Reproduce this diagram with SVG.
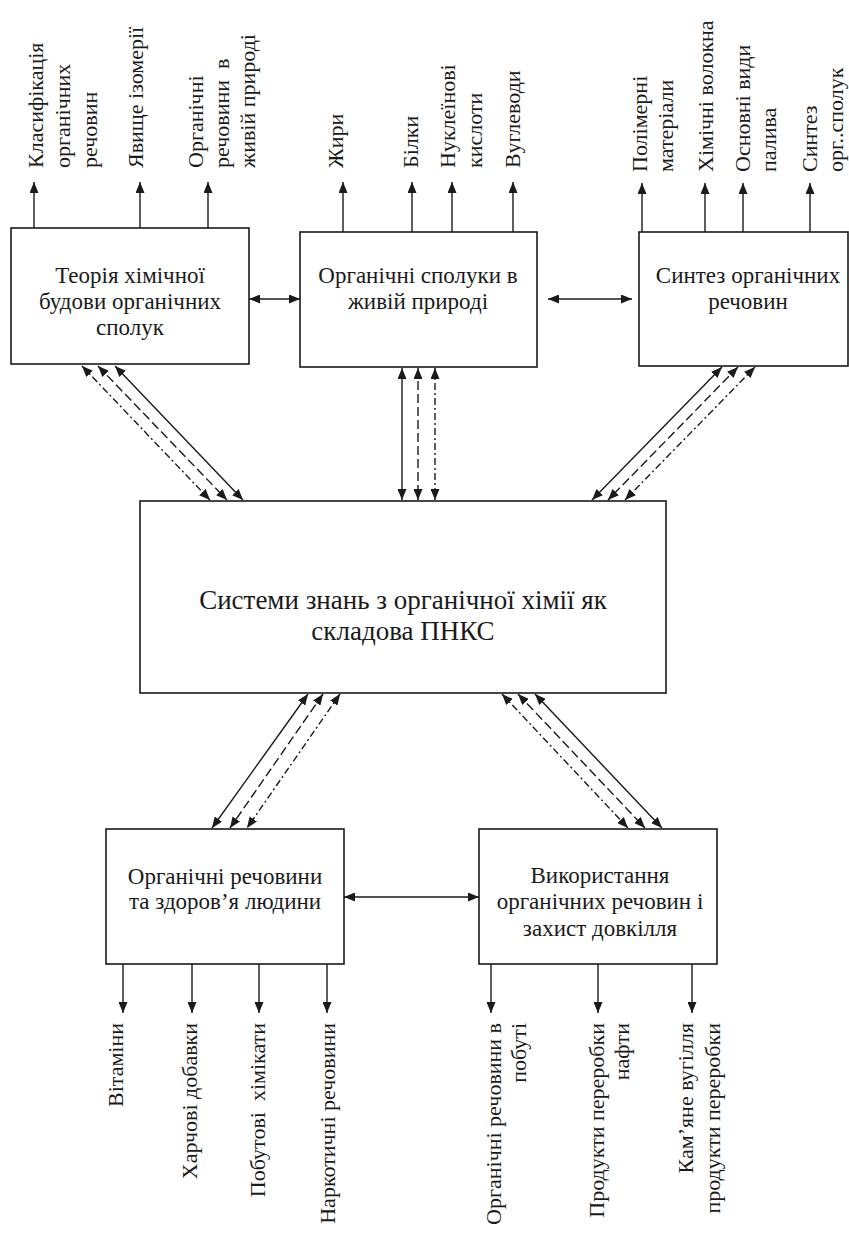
<svg xmlns="http://www.w3.org/2000/svg" width="849" height="1233" viewBox="0 0 849 1233">
<style>
.box{fill:#fff;stroke:#1a1a1a;stroke-width:1.6}
.t,.tc,.lb{font-family:'Liberation Serif','DejaVu Serif','Noto Serif',serif;fill:#1a1a1a}
.t{font-size:23px;text-anchor:middle}
.tc{font-size:27px;text-anchor:middle}
.lb{font-size:22px;white-space:pre}
.le{text-anchor:end}
.c{stroke:#1a1a1a;stroke-width:1.4;fill:none}
.one{marker-end:url(#ah)}
.two{marker-start:url(#ah);marker-end:url(#ah)}
.dash{stroke-dasharray:9 4}
.dd{stroke-dasharray:7 3 2 3}
</style>
<defs>
<marker id="ah" markerUnits="userSpaceOnUse" markerWidth="11" markerHeight="9" refX="11" refY="4.5" orient="auto-start-reverse">
<path d="M0,0 L11,4.5 L0,9 z" fill="#1a1a1a"/>
</marker>
</defs>
<rect width="849" height="1233" fill="#fff"/>

<g id="connectors">
<line class="c one" x1="34" y1="228" x2="34" y2="182"/>
<line class="c one" x1="140" y1="228" x2="140" y2="182"/>
<line class="c one" x1="208" y1="228" x2="208" y2="182"/>
<line class="c one" x1="343" y1="232" x2="343" y2="182"/>
<line class="c one" x1="412" y1="232" x2="412" y2="182"/>
<line class="c one" x1="452" y1="232" x2="452" y2="182"/>
<line class="c one" x1="513" y1="232" x2="513" y2="182"/>
<line class="c one" x1="642" y1="232" x2="642" y2="183"/>
<line class="c one" x1="705" y1="232" x2="705" y2="183"/>
<line class="c one" x1="743" y1="232" x2="743" y2="183"/>
<line class="c one" x1="810" y1="232" x2="810" y2="183"/>
<line class="c one" x1="123" y1="964" x2="123" y2="1013"/>
<line class="c one" x1="192" y1="964" x2="192" y2="1013"/>
<line class="c one" x1="259" y1="964" x2="259" y2="1013"/>
<line class="c one" x1="327" y1="964" x2="327" y2="1013"/>
<line class="c one" x1="491" y1="964" x2="491" y2="1013"/>
<line class="c one" x1="598" y1="964" x2="598" y2="1013"/>
<line class="c one" x1="692" y1="964" x2="692" y2="1013"/>
<line class="c two" x1="249" y1="299" x2="300" y2="299"/>
<line class="c two" x1="548" y1="299" x2="632" y2="299"/>
<line class="c two" x1="344" y1="897" x2="479" y2="897"/>
<line class="c two" x1="115" y1="366" x2="243" y2="500"/>
<line class="c two dash" x1="98" y1="366" x2="227" y2="500"/>
<line class="c two dd" x1="82" y1="366" x2="210" y2="500"/>
<line class="c two" x1="402" y1="368" x2="402" y2="500"/>
<line class="c two dash" x1="418" y1="368" x2="418" y2="500"/>
<line class="c two dd" x1="435" y1="368" x2="435" y2="500"/>
<line class="c two" x1="722" y1="367" x2="592" y2="500"/>
<line class="c two dash" x1="738" y1="367" x2="608" y2="500"/>
<line class="c two dd" x1="755" y1="367" x2="625" y2="500"/>
<line class="c two" x1="308" y1="694" x2="212" y2="828"/>
<line class="c two dash" x1="323" y1="694" x2="230" y2="828"/>
<line class="c two dd" x1="340" y1="694" x2="247" y2="828"/>
<line class="c two" x1="535" y1="694" x2="662" y2="828"/>
<line class="c two dash" x1="518" y1="694" x2="645" y2="828"/>
<line class="c two dd" x1="502" y1="694" x2="628" y2="828"/>
</g>

<g id="theory">
<rect class="box" x="11" y="228" width="238" height="136"/>
<text class="t" x="130" y="283">Теорія хімічної</text>
<text class="t" x="130" y="309">будови органічних</text>
<text class="t" x="130" y="335">сполук</text>
</g>
<g id="theory-labels">
<text class="lb" transform="translate(43,168) rotate(-90)">Класифікація</text>
<text class="lb" transform="translate(70,168) rotate(-90)">органічних</text>
<text class="lb" transform="translate(97,168) rotate(-90)">речовин</text>
<text class="lb" transform="translate(143,168) rotate(-90)">Явище ізомерії</text>
<text class="lb" transform="translate(203,168) rotate(-90)">Органічні</text>
<text class="lb" transform="translate(229,168) rotate(-90)">речовини  в</text>
<text class="lb" transform="translate(255,168) rotate(-90)">живій природі</text>
</g>

<g id="living">
<rect class="box" x="300" y="232" width="237" height="135"/>
<text class="t" x="418" y="283">Органічні сполуки в</text>
<text class="t" x="418" y="309">живій природі</text>
</g>
<g id="living-labels">
<text class="lb" transform="translate(343,168) rotate(-90)">Жири</text>
<text class="lb" transform="translate(418,168) rotate(-90)">Білки</text>
<text class="lb" transform="translate(455,168) rotate(-90)">Нуклеїнові</text>
<text class="lb" transform="translate(482,168) rotate(-90)">кислоти</text>
<text class="lb" transform="translate(520,168) rotate(-90)">Вуглеводи</text>
</g>

<g id="synthesis">
<rect class="box" x="639" y="232" width="209" height="134"/>
<text class="t" x="748" y="283">Синтез органічних</text>
<text class="t" x="748" y="309">речовин</text>
</g>
<g id="synthesis-labels">
<text class="lb" transform="translate(647,172) rotate(-90)">Полімерні</text>
<text class="lb" transform="translate(673,172) rotate(-90)">матеріали</text>
<text class="lb" transform="translate(713,172) rotate(-90)">Хімічні волокна</text>
<text class="lb" transform="translate(750,172) rotate(-90)">Основні види</text>
<text class="lb" transform="translate(776,172) rotate(-90)">палива</text>
<text class="lb" transform="translate(817,172) rotate(-90)">Синтез</text>
<text class="lb" transform="translate(843,172) rotate(-90)">орг..сполук</text>
</g>

<g id="central">
<rect class="box" x="140" y="501" width="526" height="192"/>
<text class="tc" x="403" y="609">Системи знань з органічної хімії як</text>
<text class="tc" x="403" y="640">складова ПНКС</text>
</g>

<g id="health">
<rect class="box" x="106" y="829" width="238" height="135"/>
<text class="t" x="225" y="884">Органічні речовини</text>
<text class="t" x="225" y="909">та здоров’я людини</text>
</g>
<g id="health-labels">
<text class="lb le" transform="translate(123,1023) rotate(-90)">Вітаміни</text>
<text class="lb le" transform="translate(197,1023) rotate(-90)">Харчові добавки</text>
<text class="lb le" transform="translate(265,1023) rotate(-90)">Побутові  хімікати</text>
<text class="lb le" transform="translate(335,1023) rotate(-90)">Наркотичні речовини</text>
</g>

<g id="environment">
<rect class="box" x="479" y="829" width="238" height="135"/>
<text class="t" x="600" y="883">Використання</text>
<text class="t" x="600" y="909">органічних речовин і</text>
<text class="t" x="600" y="936">захист довкілля</text>
</g>
<g id="environment-labels">
<text class="lb le" transform="translate(501,1023) rotate(-90)">Органічні речовини в</text>
<text class="lb le" transform="translate(526,1023) rotate(-90)">побуті</text>
<text class="lb le" transform="translate(604,1023) rotate(-90)">Продукти переробки</text>
<text class="lb le" transform="translate(629,1023) rotate(-90)">нафти</text>
<text class="lb le" transform="translate(693,1023) rotate(-90)">Кам’яне вугілля</text>
<text class="lb le" transform="translate(720,1023) rotate(-90)">продукти переробки</text>
</g>
</svg>
